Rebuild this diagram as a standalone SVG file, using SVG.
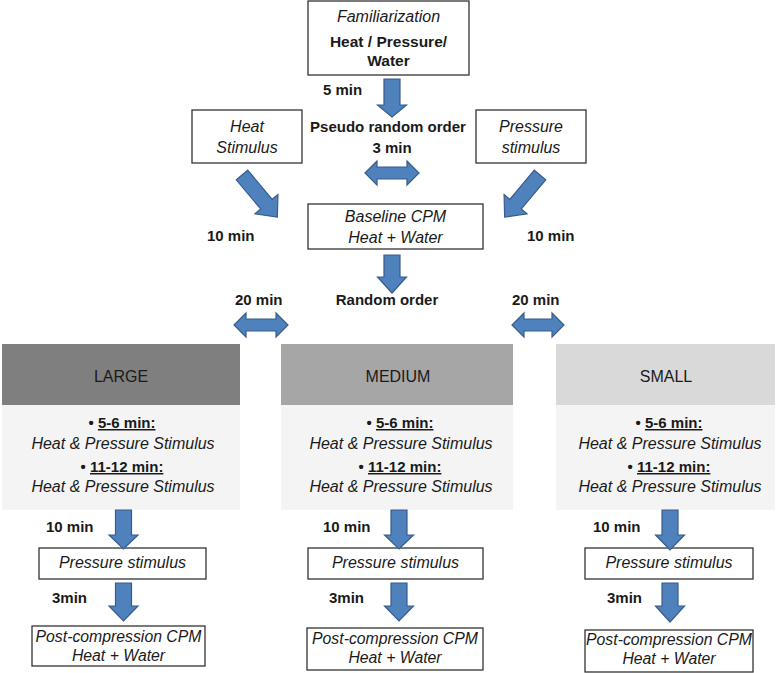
<svg xmlns="http://www.w3.org/2000/svg" width="777" height="673" viewBox="0 0 777 673">
<style>
text{font-family:"Liberation Sans",Arial,sans-serif;fill:#1a1a1a;font-size:15px}
.it{font-style:italic;font-size:16px}
.pc{font-size:15.8px}
.b{font-weight:bold}
.tb{font-size:15.5px}
.c{text-anchor:middle}
.hd{font-size:16px}
.box{fill:#fff;stroke:#333;stroke-width:1.3}
.arr{fill:#4f81bd;stroke:#385d8a;stroke-width:1.2;stroke-linejoin:miter}
.u{text-decoration:underline}
</style>
<rect width="777" height="673" fill="#fff"/>
<g id="familiarization">
<rect class="box" x="308" y="1" width="161" height="74"/>
<text class="it c" x="388.5" y="22">Familiarization</text>
<text class="b tb c" x="388.5" y="47">Heat / Pressure/</text>
<text class="b tb c" x="388.5" y="66">Water</text>
</g>
<g id="heat-stimulus">
<rect class="box" x="192" y="110" width="110" height="53"/>
<text class="it c" x="247" y="132">Heat</text>
<text class="it c" x="247" y="153">Stimulus</text>
</g>
<g id="pressure-stimulus-top">
<rect class="box" x="476" y="110" width="110" height="53"/>
<text class="it c" x="531" y="132">Pressure</text>
<text class="it c" x="531" y="153">stimulus</text>
</g>
<g id="baseline-cpm">
<rect class="box" x="308" y="204" width="175" height="45"/>
<text class="it c" x="395.5" y="222">Baseline CPM</text>
<text class="it c" x="395.5" y="243">Heat + Water</text>
</g>
<g id="large">
<rect x="2" y="344" width="238" height="61" fill="#7f7f7f"/>
<rect x="2" y="405" width="238" height="105" fill="#f4f4f4"/>
<text class="hd c" x="121" y="382">LARGE</text>
<text class="b c" x="122" y="428">• <tspan class="u">5-6 min:</tspan></text>
<text class="it c" x="123" y="449">Heat &amp; Pressure Stimulus</text>
<text class="b c" x="122" y="472">• <tspan class="u">11-12 min:</tspan></text>
<text class="it c" x="123" y="492">Heat &amp; Pressure Stimulus</text>
</g>
<g id="medium">
<rect x="281" y="344" width="232" height="61" fill="#a6a6a6"/>
<rect x="281" y="405" width="232" height="105" fill="#f4f4f4"/>
<text class="hd c" x="398" y="382">MEDIUM</text>
<text class="b c" x="400" y="428">• <tspan class="u">5-6 min:</tspan></text>
<text class="it c" x="401" y="449">Heat &amp; Pressure Stimulus</text>
<text class="b c" x="400" y="472">• <tspan class="u">11-12 min:</tspan></text>
<text class="it c" x="401" y="492">Heat &amp; Pressure Stimulus</text>
</g>
<g id="small">
<rect x="556" y="344" width="219" height="61" fill="#d9d9d9"/>
<rect x="556" y="405" width="219" height="105" fill="#f4f4f4"/>
<text class="hd c" x="666" y="382">SMALL</text>
<text class="b c" x="669" y="428">• <tspan class="u">5-6 min:</tspan></text>
<text class="it c" x="670" y="449">Heat &amp; Pressure Stimulus</text>
<text class="b c" x="669" y="472">• <tspan class="u">11-12 min:</tspan></text>
<text class="it c" x="670" y="492">Heat &amp; Pressure Stimulus</text>
</g>
<g id="large-pressure">
<rect class="box" x="39" y="548" width="167" height="31"/>
<text class="it c" x="122.5" y="568">Pressure stimulus</text>
</g>
<g id="large-post">
<rect class="box" x="32" y="626" width="173" height="40"/>
<text class="it pc c" x="118.5" y="642">Post-compression CPM</text>
<text class="it pc c" x="118.5" y="661">Heat + Water</text>
</g>
<g id="medium-pressure">
<rect class="box" x="308" y="548" width="175" height="31"/>
<text class="it c" x="395.5" y="568">Pressure stimulus</text>
</g>
<g id="medium-post">
<rect class="box" x="307" y="628" width="176" height="42"/>
<text class="it pc c" x="395" y="644">Post-compression CPM</text>
<text class="it pc c" x="395" y="663">Heat + Water</text>
</g>
<g id="small-pressure">
<rect class="box" x="585" y="548" width="168" height="31"/>
<text class="it c" x="669" y="568">Pressure stimulus</text>
</g>
<g id="small-post">
<rect class="box" x="585" y="630" width="168" height="42"/>
<text class="it pc c" x="669" y="645">Post-compression CPM</text>
<text class="it pc c" x="669" y="664">Heat + Water</text>
</g>
<g id="labels">
<text class="b" x="323" y="95">5 min</text>
<text class="b c" x="388" y="132">Pseudo random order</text>
<text class="b c" x="392" y="153">3 min</text>
<text class="b" x="207" y="241">10 min</text>
<text class="b" x="527" y="241">10 min</text>
<text class="b c" x="387" y="305">Random order</text>
<text class="b" x="235" y="305">20 min</text>
<text class="b" x="512" y="305">20 min</text>
<text class="b" x="46" y="532">10 min</text>
<text class="b" x="52" y="603">3min</text>
<text class="b" x="323" y="532">10 min</text>
<text class="b" x="329" y="603">3min</text>
<text class="b" x="593" y="532">10 min</text>
<text class="b" x="607" y="603">3min</text>
</g>
<g id="connectors">
<path class="arr" d="M384,79H400V105H406.5L392,117L377.5,105H384Z"/>
<path class="arr" d="M384,255H400V277H406.5L392,293L377.5,277H384Z"/>
<path class="arr" d="M365,173L377,161V167H407V161L419,173L407,185V179H377V185Z"/>
<path class="arr" d="M234,325L246,313V319H276V313L288,325L276,337V331H246V337Z"/>
<path class="arr" d="M512,325L524,313V319H552V313L564,325L552,337V331H524V337Z"/>
<path class="arr" transform="translate(242,175) rotate(50)" d="M0,-7.5H38V-15L55,0L38,15V7.5H0Z"/>
<path class="arr" transform="translate(540,175) rotate(130)" d="M0,-7.5H38V-15L55,0L38,15V7.5H0Z"/>
<path class="arr" d="M115.5,510H131.5V535H138L123.5,549L109,535H115.5Z"/>
<path class="arr" d="M115.5,583H131.5V606H138L123.5,621L109,606H115.5Z"/>
<path class="arr" d="M391,510H407V535H413.5L399,549L384.5,535H391Z"/>
<path class="arr" d="M391,583H407V606H413.5L399,621L384.5,606H391Z"/>
<path class="arr" d="M662,510H678V535H684.5L670,550L655.5,535H662Z"/>
<path class="arr" d="M662,583H678V606H684.5L670,622L655.5,606H662Z"/>
</g>
</svg>
